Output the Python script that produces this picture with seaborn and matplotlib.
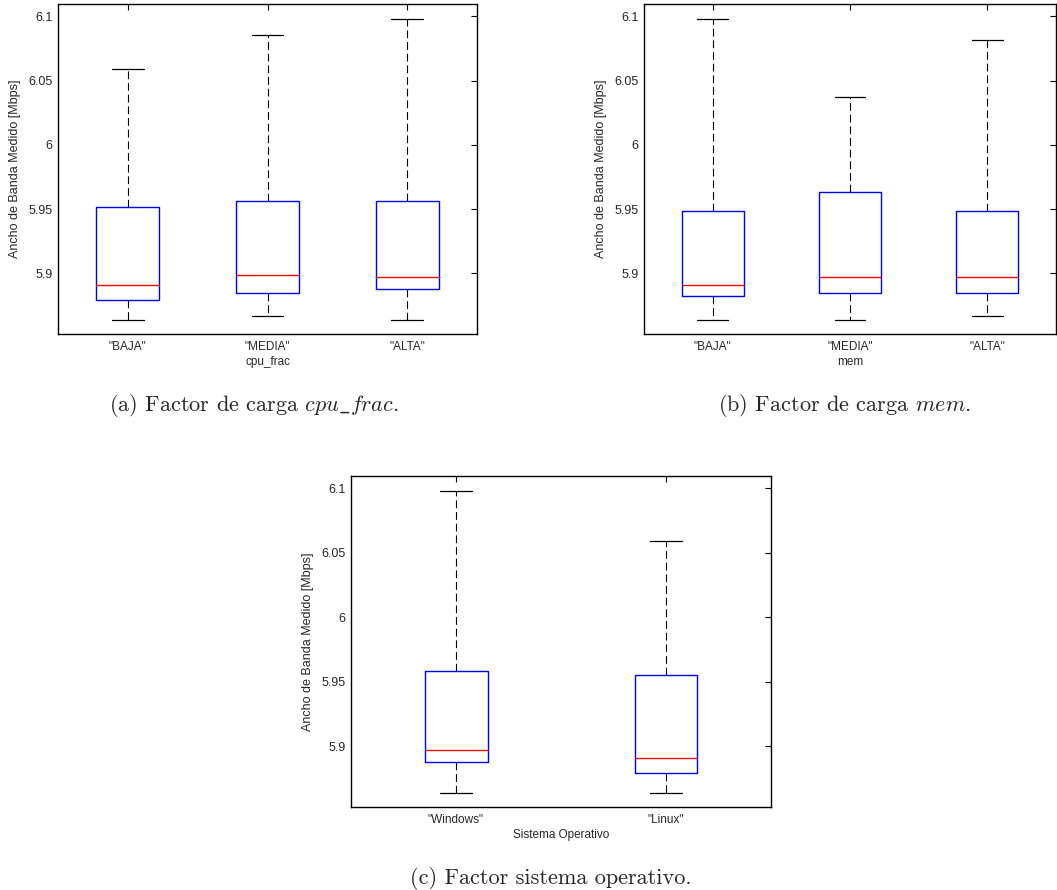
import matplotlib
matplotlib.use("Agg")
import matplotlib.pyplot as plt
import seaborn as sns
import pandas as pd

# Five-number summaries (min, Q1, median, Q3, max) of measured bandwidth [Mbps]
load_levels = ['"BAJA"', '"MEDIA"', '"ALTA"']

cpu_min = [5.8637, 5.8671, 5.8637]
cpu_q1 = [5.8790, 5.8849, 5.8878]
cpu_med = [5.8907, 5.8984, 5.8969]
cpu_q3 = [5.9520, 5.9563, 5.9563]
cpu_max = [6.0593, 6.0852, 6.0979]

mem_min = [5.8637, 5.8637, 5.8671]
mem_q1 = [5.8821, 5.8849, 5.8849]
mem_med = [5.8907, 5.8969, 5.8969]
mem_q3 = [5.9488, 5.9636, 5.9488]
mem_max = [6.0979, 6.0370, 6.0818]

os_names = ['"Windows"', '"Linux"']
os_min = [5.8637, 5.8637]
os_q1 = [5.8878, 5.8788]
os_med = [5.8969, 5.8907]
os_q3 = [5.9581, 5.9549]
os_max = [6.0979, 6.0593]

y_ticks = [5.9, 5.95, 6.0, 6.05, 6.1]
y_tick_labels = ["5.9", "5.95", "6", "6.05", "6.1"]
y_label = "Ancho de Banda Medido [Mbps]"


def long_form(cats, mins, q1s, meds, q3s, maxs):
    rows = []
    for c, a, b, m, d, e in zip(cats, mins, q1s, meds, q3s, maxs):
        for v in (a, b, m, d, e):
            rows.append({"grupo": c, "valor": v})
    return pd.DataFrame(rows)


sns.set_style("white")
plt.rcParams["font.family"] = ["Liberation Sans", "DejaVu Sans"]
plt.rcParams["mathtext.fontset"] = "cm"

fig = plt.figure(figsize=(10.57, 8.9), dpi=100)
W, H = 1057, 890


def axes_px(left, top, right, bottom):
    return fig.add_axes([left / W, 1 - bottom / H, (right - left) / W, (bottom - top) / H])


def draw_box(ax, df, order, width, xlabel):
    sns.boxplot(
        data=df, x="grupo", y="valor", order=order, ax=ax,
        whis=(0, 100), width=width, fill=False, color="blue",
        linewidth=1.0,
        boxprops=dict(color="blue", linewidth=1.0),
        medianprops=dict(color="red", linewidth=1.0),
        whiskerprops=dict(color="black", linewidth=0.8, linestyle=(0, (7, 3.5))),
        capprops=dict(color="black", linewidth=0.9),
    )
    ax.set_xlim(-0.5, len(order) - 0.5)
    ax.set_ylim(5.8528, 6.1096)
    ax.set_yticks(y_ticks)
    ax.set_yticklabels(y_tick_labels)
    ax.set_ylabel(y_label, fontsize=9, labelpad=5)
    ax.set_xlabel(xlabel, fontsize=8.5, labelpad=2.5)
    ax.tick_params(direction="in", top=True, right=True, length=4, width=0.8,
                   color="black", pad=4)
    ax.tick_params(axis="y", labelsize=9)
    ax.tick_params(axis="x", labelsize=8.5, pad=5)
    for s in ax.spines.values():
        s.set_visible(True)
        s.set_color("black")
        s.set_linewidth(1.0)


ax_a = axes_px(58, 4, 477, 334)
draw_box(ax_a, long_form(load_levels, cpu_min, cpu_q1, cpu_med, cpu_q3, cpu_max),
         load_levels, 0.45, "cpu_frac")

ax_b = axes_px(644, 4, 1056, 334)
draw_box(ax_b, long_form(load_levels, mem_min, mem_q1, mem_med, mem_q3, mem_max),
         load_levels, 0.45, "mem")

ax_c = axes_px(351, 476, 771, 807)
draw_box(ax_c, long_form(os_names, os_min, os_q1, os_med, os_q3, os_max),
         os_names, 0.30, "Sistema Operativo")

cap_kw = dict(ha="center", va="baseline", fontsize=16, family="cmr10")
fig.text(254 / W, 1 - 411 / H, r"(a) Factor de carga $cpu\_frac$.", **cap_kw)
fig.text(844 / W, 1 - 411 / H, r"(b) Factor de carga $mem$.", **cap_kw)
fig.text(551 / W, 1 - 884 / H, "(c) Factor sistema operativo.", **cap_kw)

fig.savefig("out.png", dpi=100)
